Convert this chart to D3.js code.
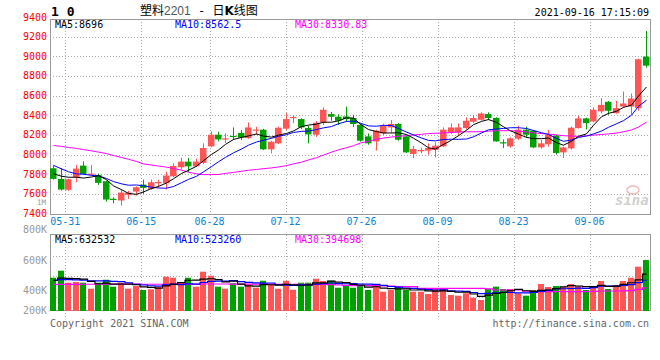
<!DOCTYPE html>
<html><head><meta charset="utf-8">
<script src="https://cdn.jsdelivr.net/npm/d3@7/dist/d3.min.js"></script>
<style>
body{margin:0;background:#fff}
svg{display:block}
text{font-family:"DejaVu Sans Mono",monospace}
</style>
</head><body>
<svg id="c" width="660" height="360"></svg>
<script>
// ---------- data ----------
const dates = ["05-27","05-28","05-31","06-01","06-02","06-03","06-04","06-07","06-08","06-09","06-10","06-11","06-15","06-16","06-17","06-18","06-21","06-22","06-23","06-24","06-25","06-28","06-29","06-30","07-01","07-02","07-05","07-06","07-07","07-08","07-09","07-12","07-13","07-14","07-15","07-16","07-19","07-20","07-21","07-22","07-23","07-26","07-27","07-28","07-29","07-30","08-02","08-03","08-04","08-05","08-06","08-09","08-10","08-11","08-12","08-13","08-16","08-17","08-18","08-19","08-20","08-23","08-24","08-25","08-26","08-27","08-30","08-31","09-01","09-02","09-03","09-06","09-07","09-08","09-09","09-10","09-13","09-14","09-15","09-16"];
const open  = [7860,7752,7641,7769,7887,7800,7793,7728,7550,7532,7590,7623,7694,7651,7715,7708,7779,7870,7928,7880,7915,8083,8202,8160,8190,8220,8168,8250,8253,8053,8114,8263,8378,8361,8270,8202,8327,8412,8385,8388,8372,8303,8185,8134,8215,8276,8311,8185,8006,8033,8040,8047,8083,8229,8229,8270,8334,8354,8412,8372,8125,8083,8161,8253,8243,8073,8105,8192,8022,8063,8270,8368,8337,8439,8537,8422,8489,8489,8473,8997];
const high  = [7887,7864,7755,7894,7931,7894,7806,7735,7565,7647,7630,7675,7745,7745,7745,7826,7911,7968,7965,7958,8114,8235,8232,8215,8276,8250,8327,8283,8262,8140,8285,8422,8398,8370,8293,8340,8479,8435,8410,8489,8405,8310,8215,8253,8315,8351,8320,8195,8090,8070,8114,8124,8276,8317,8317,8378,8400,8430,8430,8380,8154,8175,8293,8283,8250,8150,8250,8200,8080,8285,8392,8375,8479,8574,8545,8547,8641,8621,8975,9258];
const low   = [7745,7633,7630,7718,7795,7786,7691,7522,7505,7481,7549,7583,7600,7640,7661,7644,7770,7850,7819,7875,7905,8075,8134,8118,8148,8148,8160,8199,8045,8012,8105,8250,8320,8260,8114,8180,8300,8344,8300,8334,8283,8130,8100,8040,8200,8219,8140,8015,7965,8015,7999,7971,8075,8210,8188,8255,8320,8345,8350,8130,8067,8070,8150,8170,8065,8060,8080,7999,7965,8050,8265,8256,8330,8420,8405,8415,8480,8405,8446,8885];
const close = [7752,7644,7748,7857,7803,7806,7712,7542,7542,7613,7613,7667,7661,7718,7720,7786,7884,7928,7880,7928,8067,8202,8154,8165,8180,8173,8276,8255,8053,8131,8273,8361,8383,8276,8205,8324,8456,8385,8344,8361,8311,8141,8114,8243,8290,8311,8151,8022,8057,8047,8067,8090,8253,8276,8276,8344,8372,8418,8372,8134,8118,8165,8253,8202,8073,8114,8200,8016,8073,8273,8368,8320,8456,8506,8446,8473,8520,8570,8970,8905];
const volume = [569,689,484,496,484,381,484,535,416,484,381,428,359,371,410,587,569,496,569,416,672,604,416,381,474,416,457,398,518,457,381,518,364,484,484,552,513,518,398,445,398,445,359,428,330,359,416,359,330,330,291,388,388,274,262,303,227,188,376,416,376,376,303,262,359,462,410,428,410,462,428,359,428,513,376,445,513,569,758,872].map(v => v * 1000);
// closes / volumes of the nine sessions before the first visible one (estimated from MA lines)
const priorClose = [8004,8038,8077,7833,7923,7774,7798,7857,7844];
const priorVolume = [540,500,520,530,510,500,520,510,530].map(v => v * 1000);
// 30-day averages
const ma30Price = [8093,8083,8072,8063,8050,8038,8025,8010,7990,7970,7952,7930,7905,7893,7883,7872,7858,7842,7820,7805,7796,7796,7797,7808,7818,7830,7840,7848,7856,7864,7874,7887,7905,7922,7945,7968,7995,8024,8048,8070,8090,8117,8135,8155,8168,8178,8186,8193,8199,8206,8213,8217,8220,8224,8228,8232,8232,8233,8238,8243,8243,8243,8238,8230,8220,8213,8208,8200,8192,8188,8185,8190,8198,8204,8210,8218,8232,8250,8280,8330.83];
const ma30Vol = [456,456,456,456,458,458,458,460,460,460,460,460,458,458,458,458,460,460,460,460,462,462,462,462,460,460,460,460,460,460,458,458,458,456,456,456,456,452,445,440,433,433,433,433,430,428,416,416,416,388,388,388,388,388,388,388,388,388,380,359,359,359,359,340,335,330,330,330,330,330,330,332,335,342,342,342,345,350,370,394.698].map(v => v * 1000);
const priceTicks = [9400,9200,9000,8800,8600,8400,8200,8000,7800,7600,7400];
const volTickLabels = ["800K","600K","400K","200K"];
const xTickLabels = ["05-31","06-15","06-28","07-12","07-26","08-09","08-23","09-06"];
const maPriceLegend = ["MA5:8696","MA10:8562.5","MA30:8330.83"];
const maVolLegend = ["MA5:632532","MA10:523260","MA30:394698"];
const stamp = "2021-09-16 17:15:09";

// ---------- helpers ----------
function movingAvg(vals, prior, n) {
  const all = prior.concat(vals);
  return vals.map((_, i) => d3.mean(all.slice(i + prior.length - n + 1, i + prior.length + 1)));
}
const ma5 = movingAvg(close, priorClose, 5);
const ma10 = movingAvg(close, priorClose, 10);
const vma5 = movingAvg(volume, priorVolume, 5);
const vma10 = movingAvg(volume, priorVolume, 10);

// ---------- layout ----------
const L = 50, R = 650, pTop = 19, pBot = 213.5, vTop = 235, vBot = 311;
const RED = "#ff5555", GREEN = "#00a000", GRID = "#aaa", BORDER = "#999";
const svg = d3.select("#c");
const n = dates.length;
const x = d3.scaleLinear().domain([0, n]).range([L, R]);          // candle slots
const gx = d3.scaleLinear().domain([0, n]).range([L, L + n * 7.6]); // grid positions (sina quirk)
const y = d3.scaleLinear().domain([7400, 9400]).range([pBot, 17]);
const yv = d3.scaleLinear().domain([0, 1300000]).range([vBot, vTop]);
const cw = 6;
const left = i => Math.round(x(i));
const crisp = v => Math.round(v) + 0.5;

// ---------- price grid ----------
const gPrice = svg.append("g");
gPrice.selectAll("line.h").data(priceTicks.filter(t => t > 7400 && t < 9400)).join("line")
  .attr("x1", L).attr("x2", R).attr("y1", d => crisp(y(d))).attr("y2", d => crisp(y(d)))
  .attr("stroke", GRID).attr("stroke-dasharray", "1,2");
const tickIdx = xTickLabels.map(t => dates.indexOf(t));
gPrice.selectAll("line.v").data(tickIdx).join("line")
  .attr("x1", d => crisp(gx(d))).attr("x2", d => crisp(gx(d))).attr("y1", pTop).attr("y2", pBot)
  .attr("stroke", GRID).attr("stroke-dasharray", "1,2");
gPrice.append("rect").attr("x", L + 0.5).attr("y", pTop + 0.5).attr("width", R - L).attr("height", Math.round(pBot) - pTop)
  .attr("fill", "none").attr("stroke", BORDER);

// price labels
svg.selectAll("text.py").data(priceTicks).join("text")
  .attr("x", 47).attr("y", d => y(d) + 3.5).attr("text-anchor", "end")
  .attr("font-size", 10).attr("fill", "#ff0000").text(d => d);
svg.append("text").attr("x", 46).attr("y", 204.5).attr("text-anchor", "end")
  .attr("font-size", 7.5).attr("fill", "#999").text("1M");

// x labels
svg.selectAll("text.xl").data(xTickLabels).join("text")
  .attr("x", d => gx(dates.indexOf(d))).attr("y", 224.5).attr("text-anchor", "middle")
  .attr("font-size", 10).attr("fill", "#0a84d8").text(d => d);

// watermark
const wm = svg.append("g").attr("opacity", 0.55);
wm.append("ellipse").attr("cx", 633).attr("cy", 190).attr("rx", 6).attr("ry", 4)
  .attr("fill", "none").attr("stroke", "#f08080").attr("stroke-width", 1.5);
wm.append("text").attr("x", 615).attr("y", 205).attr("font-family", "DejaVu Sans")
  .attr("font-style", "italic").attr("font-weight", "bold").attr("font-size", 14)
  .attr("fill", "#aaa").text("sina");

// ---------- candles ----------
const gC = svg.append("g");
const idx = d3.range(n);
const col = i => close[i] >= open[i] ? RED : GREEN;
gC.selectAll("line.w").data(idx).join("line")
  .attr("x1", i => left(i) + 3.5).attr("x2", i => left(i) + 3.5)
  .attr("y1", i => y(high[i])).attr("y2", i => y(low[i]))
  .attr("stroke", col).attr("stroke-width", 1);
gC.selectAll("rect").data(idx).join("rect")
  .attr("x", i => left(i)).attr("width", cw + 0.5)
  .attr("y", i => y(Math.max(open[i], close[i])))
  .attr("height", i => Math.max(1.2, Math.abs(y(open[i]) - y(close[i]))))
  .attr("fill", col);

// MA lines price
const line = d3.line().x((d, i) => left(i) + 3.5).y(d => y(d));
[[ma30Price, "#ff00ff"], [ma10, "#0000ff"], [ma5, "#000"]].forEach(([arr, c]) => {
  svg.append("path").attr("d", line(arr)).attr("fill", "none").attr("stroke", c).attr("stroke-width", 1);
});

// price legend
const legX = [55, 175, 295], legC = ["#000", "#0000ff", "#ff00ff"];
svg.selectAll("text.pl").data(maPriceLegend).join("text")
  .attr("x", (d, i) => legX[i]).attr("y", 27.5).attr("font-size", 10)
  .attr("fill", (d, i) => legC[i]).text(d => d);

// ---------- volume panel ----------
const gV = svg.append("g");
const volGridY = [0, 1, 2].map(k => vTop + 20.7 * (k + 1));
gV.selectAll("line.h").data(volGridY).join("line")
  .attr("x1", L).attr("x2", R).attr("y1", d => crisp(d)).attr("y2", d => crisp(d))
  .attr("stroke", GRID).attr("stroke-dasharray", "1,2");
gV.selectAll("line.v").data(tickIdx).join("line")
  .attr("x1", d => crisp(gx(d))).attr("x2", d => crisp(gx(d))).attr("y1", vTop).attr("y2", 317)
  .attr("stroke", GRID).attr("stroke-dasharray", "1,2");
gV.append("rect").attr("x", L + 0.5).attr("y", vTop - 0.5).attr("width", R - L).attr("height", vBot - vTop)
  .attr("fill", "none").attr("stroke", BORDER);

gV.selectAll("rect.b").data(idx).join("rect")
  .attr("x", i => left(i)).attr("width", cw)
  .attr("y", i => yv(volume[i])).attr("height", i => vBot - yv(volume[i]))
  .attr("fill", col);

const vline = d3.line().x((d, i) => left(i) + 3.5).y(d => yv(d)).curve(d3.curveStep);
[[ma30Vol, "#ff00ff"], [vma10, "#0000ff"], [vma5, "#000"]].forEach(([arr, c]) => {
  svg.append("path").attr("d", vline(arr)).attr("fill", "none").attr("stroke", c).attr("stroke-width", 1.2);
});

// volume labels (sina's own label positions)
const volLabelY = d3.scaleLinear().domain([0, 2]).range([233, 294]);
svg.selectAll("text.vl").data(volTickLabels).join("text")
  .attr("x", 47).attr("y", (d, i) => Math.min(volLabelY(i), 314)).attr("text-anchor", "end")
  .attr("font-size", 10).attr("fill", "#999").text(d => d);

svg.selectAll("text.vleg").data(maVolLegend).join("text")
  .attr("x", (d, i) => legX[i]).attr("y", 242.5).attr("font-size", 10)
  .attr("fill", (d, i) => legC[i]).text(d => d);

// ---------- header / footer ----------
svg.append("text").attr("x", 51).attr("y", 15.5).attr("font-size", 13).attr("font-weight", "bold")
  .attr("fill", "#000").text("1 0");
const t = svg.append("text").attr("x", 140).attr("y", 15).attr("font-size", 12).attr("fill", "#000");
t.append("tspan").attr("font-family", "Noto Sans CJK SC").text("塑料");
t.append("tspan").attr("font-family", "Liberation Sans").attr("fill", "#555").text("2201");
t.append("tspan").attr("font-family", "DejaVu Sans Mono").text(" - ");
t.append("tspan").attr("font-family", "Noto Sans CJK SC").text("日");
t.append("tspan").attr("font-family", "DejaVu Sans").attr("font-weight", "bold").text("K");
t.append("tspan").attr("font-family", "Noto Sans CJK SC").text("线图");
svg.append("text").attr("x", 649).attr("y", 15.5).attr("text-anchor", "end").attr("font-size", 10)
  .attr("fill", "#000").text(stamp);

svg.append("text").attr("x", 50).attr("y", 327).attr("font-size", 10).attr("fill", "#666")
  .text("Copyright 2021 SINA.COM");
svg.append("text").attr("x", 649).attr("y", 327).attr("text-anchor", "end").attr("font-size", 10)
  .attr("fill", "#666").text("http://finance.sina.com.cn");
</script>
</body></html>
